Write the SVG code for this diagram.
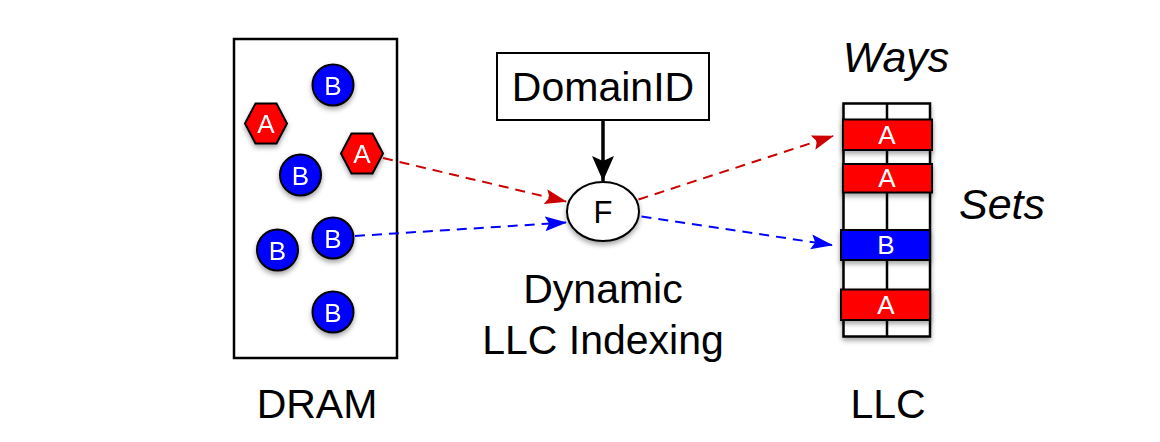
<svg xmlns="http://www.w3.org/2000/svg" width="1160" height="442" viewBox="0 0 1160 442">
<style>
text{font-family:"Liberation Sans",Arial,Helvetica,sans-serif;text-anchor:middle}
.lbl{font-size:41px;fill:#000}
.it{font-size:43px;font-style:italic;fill:#000}
.in{fill:#fff;font-size:26px}
.cell{fill:#fff;stroke:#000;stroke-width:2.5}
.red{fill:#ff0000;stroke:#000;stroke-width:2}
.blue{fill:#0000ff;stroke:#000;stroke-width:2}
.dr{fill:none;stroke:#cc0000;stroke-width:2;stroke-dasharray:10 7}
.db{fill:none;stroke:#0000ff;stroke-width:2;stroke-dasharray:10 7}
</style>
<defs>
<filter id="sh" x="-30%" y="-30%" width="160%" height="170%">
<feDropShadow dx="0" dy="3" stdDeviation="2.5" flood-color="#000" flood-opacity="0.35"/>
</filter>
<marker id="ar" markerWidth="22" markerHeight="16" refX="21" refY="7.5" orient="auto" markerUnits="userSpaceOnUse">
<path d="M0,0 L22,7.5 L0,15 L4,7.5 Z" fill="#cc0000"/>
</marker>
<marker id="ab" markerWidth="22" markerHeight="16" refX="21" refY="7.5" orient="auto" markerUnits="userSpaceOnUse">
<path d="M0,0 L22,7.5 L0,15 L4,7.5 Z" fill="#0000ff"/>
</marker>
<marker id="ak" markerWidth="26" markerHeight="24" refX="25" refY="11" orient="auto" markerUnits="userSpaceOnUse">
<path d="M0,0 L25,11 L0,22 L5,11 Z" fill="#000"/>
</marker>
</defs>
<rect width="1160" height="442" fill="#fff"/>

<g id="dram">
<rect x="234" y="39" width="163" height="319" fill="#fff" stroke="#000" stroke-width="2.5"/>
<text class="lbl" x="317" y="418">DRAM</text>
</g>
<g id="dram-a1" filter="url(#sh)">
<polygon class="red" points="245,123.5 255.5,103.5 276.5,103.5 287,123.5 276.5,143.5 255.5,143.5"/>
<text class="in" x="266" y="133" font-size="27">A</text>
</g>
<g id="dram-a2" filter="url(#sh)">
<polygon class="red" points="341,153.5 351.5,133.5 372.5,133.5 383,153.5 372.5,173.5 351.5,173.5"/>
<text class="in" x="362" y="163" font-size="27">A</text>
</g>
<g id="dram-b1" filter="url(#sh)"><circle class="blue" cx="333" cy="85" r="20.5"/><text class="in" x="333" y="94.5">B</text></g>
<g id="dram-b2" filter="url(#sh)"><circle class="blue" cx="300.5" cy="175" r="20.5"/><text class="in" x="300.5" y="184.5">B</text></g>
<g id="dram-b3" filter="url(#sh)"><circle class="blue" cx="333" cy="238" r="20.5"/><text class="in" x="333" y="247.5">B</text></g>
<g id="dram-b4" filter="url(#sh)"><circle class="blue" cx="277.5" cy="250" r="20.5"/><text class="in" x="277.5" y="259.5">B</text></g>
<g id="dram-b5" filter="url(#sh)"><circle class="blue" cx="333" cy="312" r="20.5"/><text class="in" x="333" y="321.5">B</text></g>

<g id="domainid">
<rect x="497" y="53" width="212" height="67" fill="#fff" stroke="#000" stroke-width="2"/>
<text class="lbl" x="603" y="101">DomainID</text>
</g>

<g id="f-node">
<ellipse cx="603" cy="211.5" rx="36" ry="29.5" fill="#fff" stroke="#000" stroke-width="2" filter="url(#sh)"/>
<text x="603" y="223" font-size="31" fill="#000">F</text>
<text class="lbl" x="603" y="303">Dynamic</text>
<text class="lbl" x="603" y="354">LLC Indexing</text>
</g>

<g id="llc">
<g filter="url(#sh)">
<rect class="cell" x="843.5" y="103.5" width="86.5" height="233"/>
</g>
<line x1="887" y1="103.5" x2="887" y2="336.5" stroke="#000" stroke-width="2.5"/>
<g filter="url(#sh)">
<rect class="red" x="843" y="119.5" width="89" height="30.5"/>
<rect class="red" x="843" y="164" width="89" height="28.5"/>
<rect class="blue" x="841" y="230" width="89" height="30"/>
<rect class="red" x="841" y="289.5" width="89" height="30.5"/>
</g>
<text class="in" x="887" y="144" font-size="23">A</text>
<text class="in" x="887" y="187" font-size="23">A</text>
<text class="in" x="886" y="254" font-size="24">B</text>
<text class="in" x="886" y="314" font-size="23">A</text>
<text class="it" x="896" y="72">Ways</text>
<text class="it" x="1002" y="219">Sets</text>
<text class="lbl" x="888" y="418">LLC</text>
</g>

<g id="connectors">
<line x1="603" y1="120" x2="603" y2="181" stroke="#000" stroke-width="3.5" marker-end="url(#ak)"/>
<line class="dr" x1="383" y1="158" x2="566" y2="201.5" marker-end="url(#ar)"/>
<line class="db" x1="355" y1="236" x2="566" y2="222.5" marker-end="url(#ab)"/>
<line class="dr" x1="638.5" y1="199.5" x2="833" y2="136" marker-end="url(#ar)"/>
<line class="db" x1="641.5" y1="216.5" x2="832" y2="245" marker-end="url(#ab)"/>
</g>
</svg>
